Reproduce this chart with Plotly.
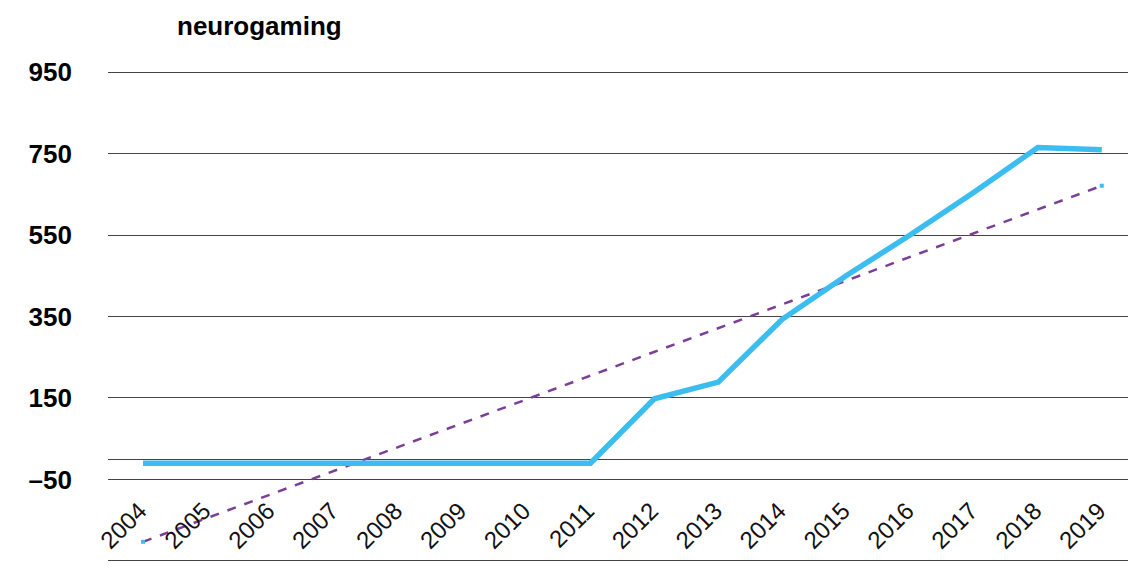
import plotly.graph_objects as go

years = ["2004", "2005", "2006", "2007", "2008", "2009", "2010", "2011",
         "2012", "2013", "2014", "2015", "2016", "2017", "2018", "2019"]
values = [-10, -10, -10, -10, -10, -10, -10, -10, 148, 189, 343, 450, 550, 655, 765, 759]
trend_years = ["2004", "2019"]
trend_values = [-203, 671]
y_tickvals = [-250, -50, 150, 350, 550, 750, 950]
y_ticktext = ["–250", "–50", "150", "350", "550", "750", "950"]

xi = list(range(len(years)))
trend_x = [years.index(y) for y in trend_years]

fig = go.Figure()
fig.add_trace(go.Scatter(
    x=trend_x, y=trend_values, mode="lines+markers",
    line=dict(color="#7B3F98", width=2.5, dash="dash"),
    marker=dict(color="#3BBEEF", size=4, symbol="square"),
    showlegend=False, hoverinfo="skip"))
fig.add_trace(go.Scatter(
    x=xi, y=values, mode="lines",
    line=dict(color="#3BBEEF", width=5.5),
    showlegend=False))
# invisible helper trace so the label axis is drawn
fig.add_trace(go.Scatter(x=[xi[0]], y=[values[0]], mode="markers",
                         marker=dict(opacity=0), xaxis="x2",
                         showlegend=False, hoverinfo="skip"))

font_family = "Liberation Sans, Arial, sans-serif"
xr = [-0.548, 15.41]
shift = 0.05
fig.update_layout(
    width=1128, height=574,
    margin=dict(l=108, r=0, t=70, b=11),
    paper_bgcolor="white", plot_bgcolor="white",
    font=dict(family=font_family, color="black"),
    title=dict(text="<b>neurogaming</b>", x=177 / 1128, xanchor="left",
               y=1 - 26 / 574, yanchor="middle",
               font=dict(size=26, family=font_family, color="black")),
    xaxis=dict(
        range=xr, showticklabels=False,
        showgrid=False, zeroline=False, showline=False, ticks="",
    ),
    xaxis2=dict(
        range=[xr[0] + shift, xr[1] + shift], overlaying="x",
        tickmode="array", tickvals=xi, ticktext=years,
        tickangle=-45, tickfont=dict(size=24, color="#111111"),
        showgrid=False, zeroline=False, showline=False, ticks="",
        anchor="free", position=0.146, side="bottom",
    ),
    yaxis=dict(
        range=[-255, 955],
        tickmode="array", tickvals=y_tickvals,
        ticktext=["<b>%s</b>" % t for t in y_ticktext],
        tickfont=dict(size=26),
        showgrid=True, gridcolor="#444444", gridwidth=1,
        zeroline=True, zerolinecolor="#444444", zerolinewidth=1,
        showline=False, ticks="", ticklabelstandoff=35,
    ),
)

fig.write_html("out.html")
